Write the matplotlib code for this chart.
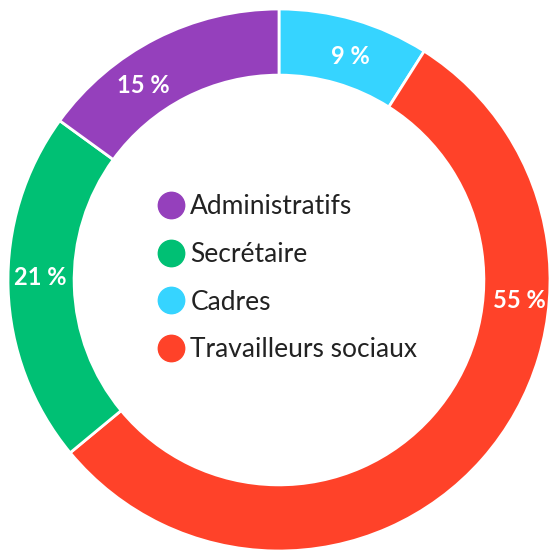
import matplotlib.pyplot as plt
from matplotlib.lines import Line2D
import numpy as np

# Data (clockwise from the top)
categories = ["Cadres", "Travailleurs sociaux", "Secrétaire", "Administratifs"]
values = [9, 55, 21, 15]
pct_labels = ["9 %", "55 %", "21 %", "15 %"]
colors = ["#36D4FF", "#FF4229", "#00C074", "#9540BC"]
legend_order = ["Administratifs", "Secrétaire", "Cadres", "Travailleurs sociaux"]

# where the percentage labels sit (angle in degrees, radius)
label_pos = [(72.3, 0.865), (-4.8, 0.89), (179.5, 0.88), (124.9, 0.877)]

plt.rcParams['font.family'] = ['Lato', 'DejaVu Sans']

fig = plt.figure(figsize=(5.52, 5.53), dpi=100)
ax = fig.add_axes([0, 0, 1, 1])

ax.pie(values, colors=colors, startangle=90, counterclock=False, radius=1.0,
       wedgeprops=dict(width=0.244, edgecolor="white", linewidth=2))

for (ang, r), txt in zip(label_pos, pct_labels):
    a = np.deg2rad(ang)
    ax.text(r * np.cos(a), r * np.sin(a), txt, color="white", fontsize=17,
            fontweight="bold", ha="center", va="center")

handles = []
for name in legend_order:
    c = colors[categories.index(name)]
    handles.append(Line2D([], [], linestyle="none", marker="o", markersize=19,
                          markerfacecolor=c, markeredgecolor=c))
leg = ax.legend(handles, legend_order, loc="center left",
                bbox_to_anchor=(0.242, 0.497), frameon=False, fontsize=19,
                labelspacing=0.86, handletextpad=0.25, handlelength=1.0,
                labelcolor="#222222")

ax.set_xlim(-279 / 271, (552 - 279) / 271)
ax.set_ylim((280 - 553) / 271, 280 / 271)
ax.set_aspect("auto")
ax.axis("off")

fig.savefig("out.png", dpi=100, facecolor="white")
